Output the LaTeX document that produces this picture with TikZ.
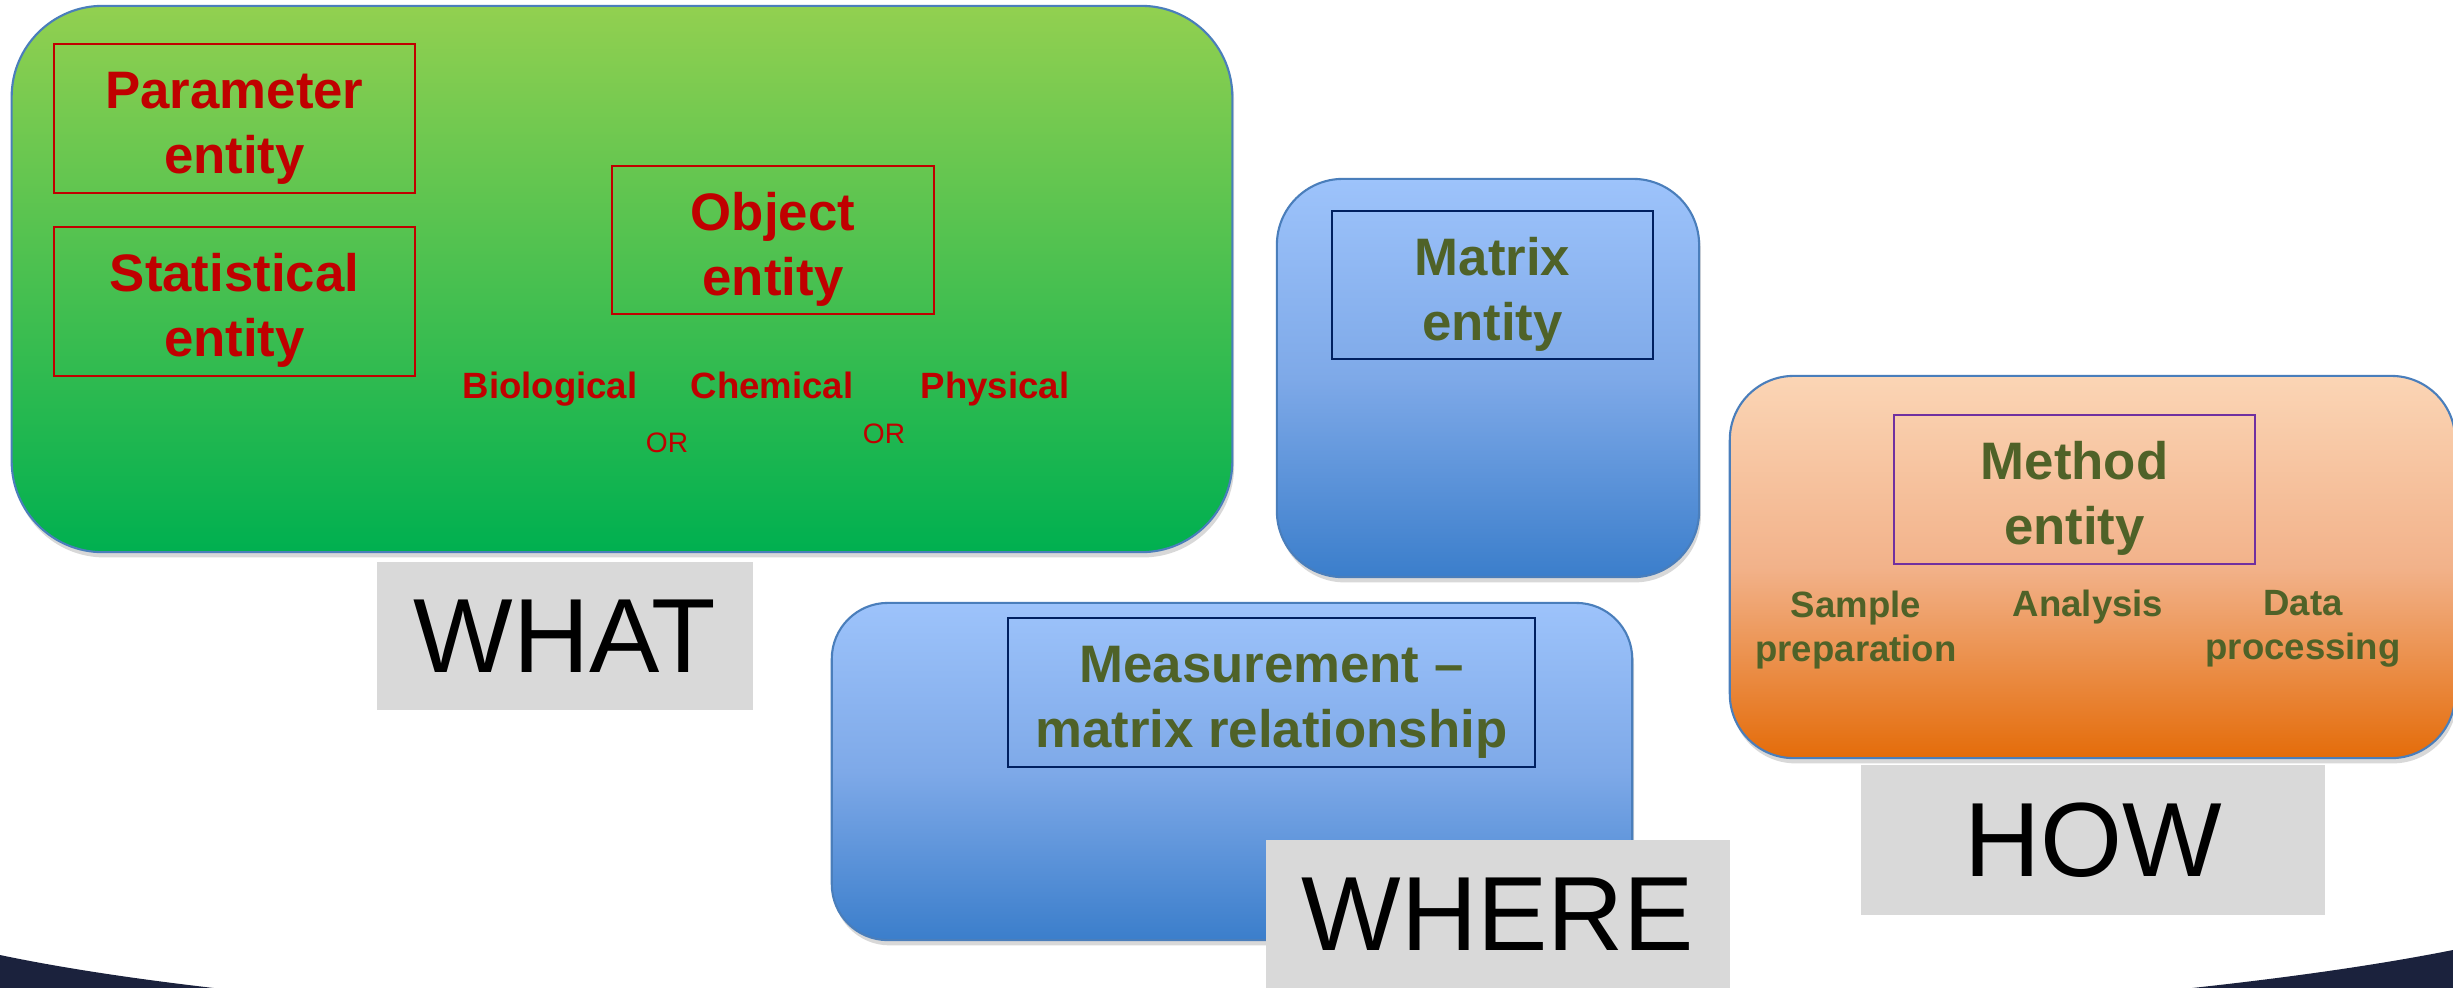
\documentclass[tikz,border=0pt]{standalone}
\usepackage{fontspec}
\setmainfont{Liberation Sans}
\usetikzlibrary{shadows}

\definecolor{entityred}{HTML}{C00000}
\definecolor{olivetext}{HTML}{4F6228}
\definecolor{panelline}{HTML}{4A7EBB}
\definecolor{navyline}{HTML}{002060}
\definecolor{methodline}{HTML}{7030A0}
\definecolor{greentop}{HTML}{92D050}
\definecolor{greenbottom}{HTML}{00B050}
\definecolor{bluetop}{HTML}{9DC3FB}
\definecolor{bluemid}{HTML}{7EA9E8}
\definecolor{bluebottom}{HTML}{3B7ECB}
\definecolor{orangetop}{HTML}{FBD5B5}
\definecolor{orangemid}{HTML}{F2B28A}
\definecolor{orangebottom}{HTML}{E46C0A}
\definecolor{taggray}{HTML}{D9D9D9}
\definecolor{banddark}{HTML}{1B223D}

% hoehere erste Zeile, damit der Text etwas tiefer im Kasten sitzt
\newcommand{\entitystrut}{\rule{0pt}{16pt}}

\begin{document}
\begin{tikzpicture}[x=0.01cm, y=-0.01cm]
	\tikzset{
		panel/.style = {draw=panelline, line width=0.6pt, rounded corners=#1, inner sep=0pt,
			drop shadow={shadow xshift=0.5pt, shadow yshift=-1.5pt, opacity=0.3}},
		bluefill/.style = {top color=bluetop, bottom color=bluebottom, middle color=bluemid},
		entity/.style = {draw=#1, line width=0.75pt, inner sep=0pt, align=center,
			font=\bfseries\fontsize{15}{18.5}\selectfont},
		kind/.style = {inner sep=0pt, text=entityred, font=\bfseries\fontsize{10.4}{12.5}\selectfont},
		orlabel/.style = {inner sep=0pt, text=entityred, font=\fontsize{8}{9.6}\selectfont},
		stepbox/.style = {inner sep=0pt, align=center, text=olivetext,
			font=\bfseries\fontsize{10.4}{12.5}\selectfont},
		tag/.style = {fill=taggray, inner sep=0pt, font=\fontsize{30}{36}\selectfont}
	}
	\path[use as bounding box, fill=white] (0,0) rectangle (2453,987);

	% Hintergrundband
	\fill[banddark] (0,955) .. controls (500,1060) and (1900,1060) .. (2453,950)
		-- (2453,1100) -- (0,1100) -- cycle;

	% Flaechen
	\node[panel=0.91cm, top color=greentop, bottom color=greenbottom,
		minimum width=12.2cm, minimum height=5.46cm] (whatpanel) at (622,279) {};
	\node[panel=0.66cm, bluefill, minimum width=4.22cm, minimum height=3.98cm] (matrixpanel) at (1488,378) {};
	\node[panel=0.56cm, bluefill, minimum width=8cm, minimum height=3.37cm] (wherepanel) at (1232,771.5) {};
	\node[panel=0.64cm, top color=orangetop, bottom color=orangebottom, middle color=orangemid,
		minimum width=7.25cm, minimum height=3.82cm] (howpanel) at (2092.5,567) {};

	% Entitaeten
	\node[entity=entityred, text=entityred, minimum width=3.61cm, minimum height=1.49cm] (param) at (234.5,118.5) {\entitystrut Parameter\\entity};
	\node[entity=entityred, text=entityred, minimum width=3.61cm, minimum height=1.49cm] (stat) at (234.5,301.5) {\entitystrut Statistical\\entity};
	\node[entity=entityred, text=entityred, minimum width=3.22cm, minimum height=1.48cm] (object) at (773,240) {\entitystrut Object\\entity};
	\node[entity=navyline, text=olivetext, minimum width=3.21cm, minimum height=1.48cm] (matrixent) at (1492.5,285) {\entitystrut Matrix\\entity};
	\node[entity=navyline, text=olivetext, minimum width=5.27cm, minimum height=1.49cm] (measure) at (1271.5,692.5) {\entitystrut Measurement –\\matrix relationship};
	\node[entity=methodline, text=olivetext, minimum width=3.61cm, minimum height=1.49cm] (method) at (2074.5,489.5) {\entitystrut Method\\entity};

	% Arten
	\node[kind, anchor=base] (bio) at (550,398) {Biological};
	\node[kind, anchor=base] (chem) at (772,398) {Chemical};
	\node[kind, anchor=base] (phys) at (995,398) {Physical};
	\node[orlabel, anchor=base] (orone) at (667,452) {OR};
	\node[orlabel, anchor=base] (ortwo) at (884,443) {OR};

	% Schritte
	\node[stepbox, anchor=north] (sample) at (1856,590) {Sample\\preparation};
	\node[stepbox, anchor=base] (analysis) at (2088,616) {Analysis};
	\node[stepbox, anchor=north] (data) at (2303,590) {Data\\processing};

	% Fragen
	\node[tag, minimum width=3.76cm, minimum height=1.48cm] (what) at (565,636) {WHAT};
	\node[tag, minimum width=4.64cm, minimum height=1.49cm] (where) at (1498,914.5) {WHERE};
	\node[tag, minimum width=4.64cm, minimum height=1.50cm] (how) at (2093,840) {HOW};
\end{tikzpicture}
\end{document}
